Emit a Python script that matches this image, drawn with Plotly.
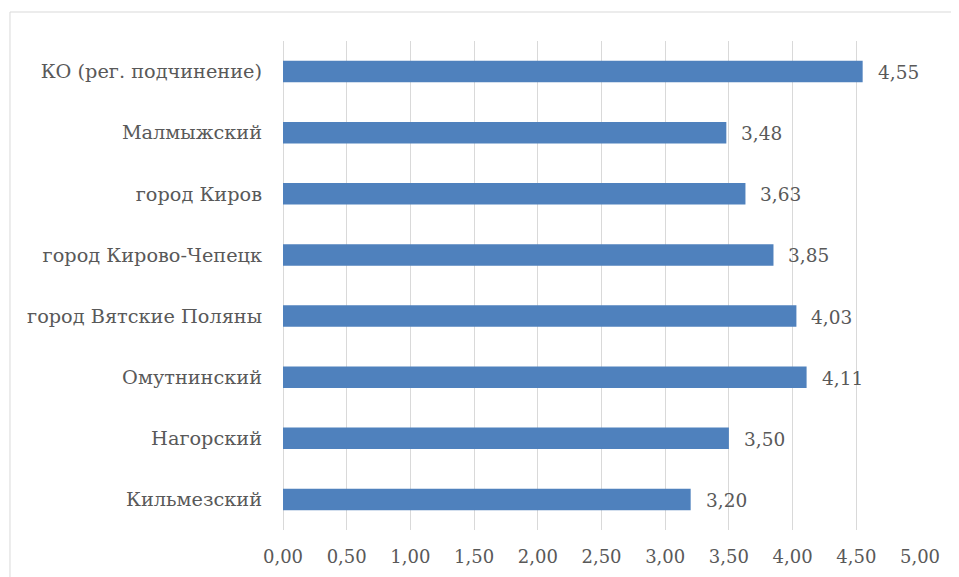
import plotly.graph_objects as go

categories = ["Кильмезский", "Нагорский", "Омутнинский", "город Вятские Поляны",
              "город Кирово-Чепецк", "город Киров", "Малмыжский", "КО (рег. подчинение)"]
values = [3.20, 3.50, 4.11, 4.03, 3.85, 3.63, 3.48, 4.55]
tick_vals = [0, 0.5, 1, 1.5, 2, 2.5, 3, 3.5, 4, 4.5, 5]
tick_text = ["0,00", "0,50", "1,00", "1,50", "2,00", "2,50", "3,00", "3,50", "4,00", "4,50", "5,00"]

FONT = "DejaVu Serif"
TXT = "#595959"

fig = go.Figure(go.Bar(
    y=categories, x=values, orientation="h",
    marker=dict(color="#4f81bd", line=dict(width=0)),
    width=0.35,
    hoverinfo="skip",
))

for c, v in zip(categories, values):
    fig.add_annotation(x=v, y=c, text=f"{v:.2f}".replace(".", ","), showarrow=False,
                       xanchor="left", xshift=13, yshift=-1,
                       font=dict(family=FONT, size=18.5, color=TXT))

fig.add_shape(type="rect", xref="paper", yref="paper",
              x0=-0.4286, x1=1.3, y0=-0.3, y1=1.0593,
              line=dict(color="#d9d9d9", width=1), layer="below")

fig.update_layout(
    width=959, height=577,
    margin=dict(l=275, r=47, t=33, b=55),
    paper_bgcolor="white", plot_bgcolor="white",
    showlegend=False,
    font=dict(family=FONT, size=18.5, color=TXT),
    xaxis=dict(range=[0, 5.0001], tickvals=tick_vals, ticktext=tick_text,
               showgrid=True, gridcolor="#d9d9d9", gridwidth=1,
               zeroline=True, zerolinecolor="#d9d9d9", zerolinewidth=1,
               showline=False, ticks="", ticklen=0,
               ticklabelstandoff=14,
               tickfont=dict(family=FONT, size=18, color=TXT)),
    yaxis=dict(categoryorder="array", categoryarray=categories,
               range=[-0.5, 7.5],
               showgrid=False, zeroline=False, showline=False, ticks="",
               ticklabelstandoff=20,
               tickfont=dict(family=FONT, size=19.3, color=TXT)),
)

fig.write_html("out.html")
